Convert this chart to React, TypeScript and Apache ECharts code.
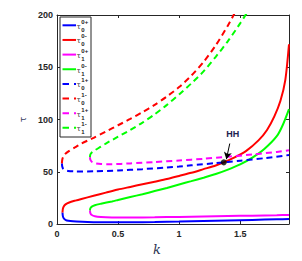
import React, { useEffect, useRef } from 'react';
import * as echarts from 'echarts';

// k range and tau range
const kMin = 0;
const kMax = 1.9;
const kInterval = 0.5;
const tauMin = 0;
const tauMax = 200;
const tauInterval = 50;

// solid branches
const tau0_0p: number[][] = [
  [0.045, 11], [0.048, 7.5], [0.055, 5.5], [0.065, 4.3], [0.08, 3.4], [0.11, 2.8], [0.16, 2.4], [0.25, 2.0],
  [0.4, 1.7], [0.6, 1.7], [0.8, 1.9], [1.0, 2.3], [1.2, 2.8], [1.4, 3.3], [1.6, 3.9], [1.8, 4.5], [1.9, 4.8],
];
const tau0_0m: number[][] = [
  [0.045, 11], [0.048, 14.5], [0.055, 16.8], [0.07, 18.8], [0.1, 20.6], [0.15, 22.4], [0.2, 24], [0.3, 27],
  [0.4, 30], [0.5, 33], [0.6, 35.5], [0.7, 38], [0.8, 40.5], [0.9, 43], [1.0, 46], [1.1, 49], [1.2, 52.5],
  [1.3, 56], [1.366, 59], [1.45, 63.5], [1.55, 70], [1.65, 80], [1.72, 90], [1.78, 103], [1.83, 118],
  [1.87, 138], [1.9, 172],
];
const tau1_0p: number[][] = [
  [0.27, 13], [0.273, 10.5], [0.285, 8.6], [0.31, 7.4], [0.36, 6.7], [0.45, 6.3], [0.6, 6.2], [0.8, 6.4],
  [1.0, 6.8], [1.2, 7.2], [1.4, 7.6], [1.6, 8.0], [1.8, 8.4], [1.9, 8.7],
];
const tau1_0m: number[][] = [
  [0.27, 13], [0.273, 15], [0.285, 16.6], [0.31, 18], [0.36, 19.4], [0.45, 21.6], [0.5, 23], [0.6, 25.8],
  [0.7, 28.5], [0.8, 31.5], [0.9, 34.5], [1.0, 37.8], [1.1, 41], [1.2, 44.3], [1.3, 47.8], [1.4, 52],
  [1.5, 57], [1.6, 63.5], [1.7, 72], [1.8, 84], [1.85, 95], [1.9, 110],
];

// dashed branches
const tau0_1p: number[][] = [
  [0.04, 58], [0.043, 55], [0.05, 53], [0.065, 51.6], [0.09, 50.8], [0.15, 50.3], [0.3, 50.4], [0.5, 51.2],
  [0.7, 52.5], [0.9, 54], [1.0, 55], [1.1, 56.2], [1.3, 58.3], [1.5, 60.6], [1.7, 63], [1.9, 66],
];
const tau0_1m: number[][] = [
  [0.04, 58], [0.043, 61.5], [0.05, 64], [0.065, 66.8], [0.1, 70], [0.15, 73.5], [0.2, 77], [0.3, 82.5],
  [0.4, 88.5], [0.5, 94.5], [0.6, 100.5], [0.7, 107], [0.8, 114], [0.9, 122], [1.0, 131], [1.1, 142],
  [1.2, 155], [1.3, 171], [1.4, 190], [1.46, 203],
];
const tau1_1p: number[][] = [
  [0.27, 64], [0.273, 61.5], [0.285, 59.6], [0.31, 58.2], [0.36, 57.4], [0.45, 57.2], [0.6, 58], [0.8, 59.3],
  [1.0, 60.8], [1.2, 62.4], [1.4, 64.4], [1.6, 66.5], [1.8, 69], [1.9, 70.5],
];
const tau1_1m: number[][] = [
  [0.27, 64], [0.273, 66.5], [0.285, 68.5], [0.31, 70.6], [0.36, 74], [0.4, 77], [0.5, 83.5], [0.6, 90],
  [0.7, 97], [0.8, 105], [0.9, 114], [1.0, 124], [1.1, 134.5], [1.2, 146], [1.3, 160], [1.4, 175],
  [1.5, 192], [1.56, 203],
];

// HH annotation
const hhPoint: number[] = [1.366, 59];
const hhArrowFrom: number[] = [1.415, 77];
const hhArrowTo: number[] = [1.387, 62];
const hhLabelPos: number[] = [1.44, 86];
const hhLabel = 'HH';

// legend
const seriesData = [tau0_0p, tau0_0m, tau1_0p, tau1_0m, tau0_1p, tau0_1m, tau1_1p, tau1_1m];
const seriesColors = ['#0000ff', '#ff0000', '#ff00ff', '#00ff00', '#0000ff', '#ff0000', '#ff00ff', '#00ff00'];
const seriesDashed = [false, false, false, false, true, true, true, true];
const legendSup = ['0+', '0-', '0+', '0-', '1+', '1-', '1+', '1-'];
const legendSub = ['0', '0', '1', '1', '0', '0', '1', '1'];
const seriesNames = legendSup.map((s, i) => `τ_${legendSub[i]}^${s}`);

const xName = 'k';
const yName = 'τ';

const axisColor = '#262626';

export default function App() {
  const ref = useRef<HTMLDivElement>(null);
  useEffect(() => {
    if (!ref.current) return;
    const chart = echarts.init(ref.current, undefined, { renderer: 'svg' });

    const series: any[] = seriesData.map((d, i) => ({
      name: seriesNames[i],
      type: 'line',
      data: d,
      showSymbol: false,
      symbol: 'none',
      smooth: 0.25,
      clip: true,
      lineStyle: {
        color: seriesColors[i],
        width: 2,
        type: seriesDashed[i] ? [6, 4] : 'solid',
      },
      z: 2,
    }));

    series.push({
      name: 'HH',
      type: 'scatter',
      data: [hhPoint],
      symbol: 'circle',
      symbolSize: 6,
      itemStyle: { color: '#000000' },
      z: 5,
      markLine: {
        silent: true,
        symbol: ['none', 'arrow'],
        symbolSize: [6, 7],
        label: { show: false },
        lineStyle: { color: '#000000', width: 1, type: 'solid' },
        data: [[{ coord: hhArrowFrom }, { coord: hhArrowTo }]],
      },
      markPoint: {
        silent: true,
        symbol: 'circle',
        symbolSize: 0,
        label: {
          show: true,
          formatter: hhLabel,
          color: '#1c2350',
          fontWeight: 'bold',
          fontSize: 9,
          fontFamily: 'Liberation Sans, Arial, sans-serif',
        },
        data: [{ coord: hhLabelPos }],
      },
    });

    // legend drawn as graphic
    const lx = 60, ly = 17, lw = 31, lh = 120;
    const rowStart = 25.3, rowGap = 14.65;
    const legendChildren: any[] = [
      {
        type: 'rect',
        shape: { x: lx, y: ly, width: lw, height: lh },
        style: { fill: '#ffffff', stroke: axisColor, lineWidth: 1 },
      },
    ];
    legendSup.forEach((sup, i) => {
      const y = rowStart + i * rowGap;
      legendChildren.push({
        type: 'line',
        shape: { x1: 62.5, y1: y, x2: 76, y2: y },
        style: {
          stroke: seriesColors[i],
          lineWidth: 2,
          lineDash: seriesDashed[i] ? [6.5, 5] : null,
        },
      });
      legendChildren.push({
        type: 'text',
        x: 76.5,
        y: y + 1.5,
        style: {
          text: 'τ',
          fontSize: 7,
          fontFamily: 'DejaVu Sans, sans-serif',
          fill: '#333333',
          verticalAlign: 'middle',
          align: 'left',
        },
      });
      legendChildren.push({
        type: 'text',
        x: 81.3,
        y: y - 3.6,
        style: {
          text: sup,
          fontSize: 6,
          fontWeight: 'bold',
          fontFamily: 'Liberation Sans, Arial, sans-serif',
          fill: '#222222',
          verticalAlign: 'middle',
          align: 'left',
        },
      });
      legendChildren.push({
        type: 'text',
        x: 81.3,
        y: y + 4.3,
        style: {
          text: legendSub[i],
          fontSize: 6,
          fontWeight: 'bold',
          fontFamily: 'Liberation Sans, Arial, sans-serif',
          fill: '#222222',
          verticalAlign: 'middle',
          align: 'left',
        },
      });
    });

    const labelStyle = {
      color: axisColor,
      fontWeight: 'bold' as const,
      fontSize: 9,
      fontFamily: 'Liberation Sans, Arial, sans-serif',
    };

    chart.setOption({
      animation: false,
      backgroundColor: '#ffffff',
      grid: { left: 57, right: 13, top: 15, bottom: 32, containLabel: false },
      xAxis: [
        {
          type: 'value',
          min: kMin,
          max: kMax,
          interval: kInterval,
          position: 'bottom',
          name: xName,
          nameLocation: 'middle',
          nameGap: 19,
          nameTextStyle: {
            fontFamily: 'DejaVu Serif, Liberation Serif, serif',
            fontStyle: 'italic',
            fontSize: 13,
            color: '#2b3352',
            padding: [0, 32, 0, 0],
          },
          axisLine: { show: true, lineStyle: { color: axisColor, width: 1 } },
          axisTick: { show: true, inside: true, length: 3, lineStyle: { color: axisColor } },
          axisLabel: { ...labelStyle, margin: 5, showMaxLabel: false },
          splitLine: { show: false },
        },
        {
          type: 'value',
          min: kMin,
          max: kMax,
          interval: kInterval,
          position: 'top',
          axisLine: { show: true, onZero: false, lineStyle: { color: axisColor, width: 1 } },
          axisTick: { show: true, inside: true, length: 3, lineStyle: { color: axisColor } },
          axisLabel: { show: false },
          splitLine: { show: false },
        },
      ],
      yAxis: [
        {
          type: 'value',
          min: tauMin,
          max: tauMax,
          interval: tauInterval,
          position: 'left',
          name: yName,
          nameLocation: 'middle',
          nameGap: 24,
          nameRotate: 90,
          nameTextStyle: {
            fontFamily: 'DejaVu Sans, sans-serif',
            fontSize: 9,
            color: '#3a4060',
          },
          axisLine: { show: true, onZero: false, lineStyle: { color: axisColor, width: 1 } },
          axisTick: { show: true, inside: true, length: 3, lineStyle: { color: axisColor } },
          axisLabel: { ...labelStyle, margin: 4 },
          splitLine: { show: false },
        },
        {
          type: 'value',
          min: tauMin,
          max: tauMax,
          interval: tauInterval,
          position: 'right',
          axisLine: { show: true, onZero: false, lineStyle: { color: axisColor, width: 1 } },
          axisTick: { show: true, inside: true, length: 3, lineStyle: { color: axisColor } },
          axisLabel: { show: false },
          splitLine: { show: false },
        },
      ],
      series,
      graphic: [{ type: 'group', children: legendChildren, z: 100 }],
    });

    return () => chart.dispose();
  }, []);

  return (
    <div
      ref={ref}
      style={{ position: 'fixed', left: 0, top: 0, width: 302, height: 261, background: '#fff' }}
    />
  );
}
